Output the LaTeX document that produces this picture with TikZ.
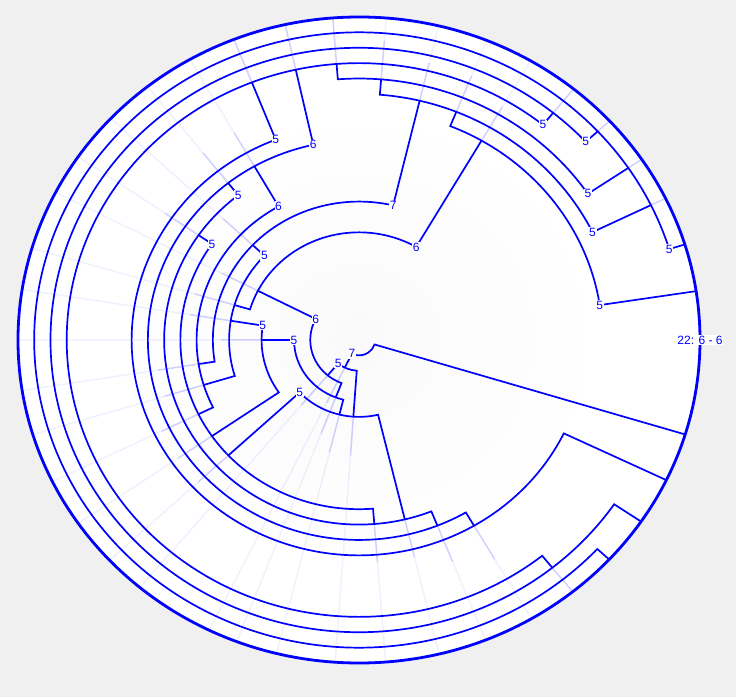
\documentclass[tikz,border=0pt]{standalone}
\usepackage{fontspec}
\setmainfont{Liberation Sans}
\definecolor{ringblue}{HTML}{0000FF}
\definecolor{panelgray}{HTML}{F0F0F0}

\begin{document}
\begin{tikzpicture}[x=1pt,y=1pt,
    branch/.style={ringblue,line width=1.7pt},
    ghost/.style={ringblue,line width=1.5pt,draw opacity=0.18},
    ghostfar/.style={ringblue,line width=1.5pt,draw opacity=0.06},
    tag/.style={text=ringblue,fill=white,inner sep=0.7pt,font=\fontsize{12}{12}\selectfont}]
  \useasboundingbox (0,0) rectangle (736,697);
  \fill[panelgray] (0,0) rectangle (736,697);
  \begin{scope}[shift={(359,357)},x=341pt,y=323pt]
  \fill[white] (0,0) ellipse[x radius=341pt,y radius=323pt];
  \shade[inner color=black!2,outer color=white] (0,0) ellipse[x radius=250pt,y radius=237pt];
  % faint guides out to the rim, stronger near their start
  \draw[ghost] (244:2/21) -- (244:{2/21+.12}) (230:3/21) -- (230:{3/21+.12}) (266:5/21) -- (266:{5/21+.12})
    (152.8:7/21) -- (152.8:{7/21+.12}) (249:4/21) -- (249:{4/21+.12}) (180:6/21) -- (180:{6/21+.12})
    (256:5/21) -- (256:{5/21+.12}) (223:11/21) -- (223:{11/21+.12}) (283.6:12/21) -- (283.6:{12/21+.12})
    (171:8/21) -- (171:{8/21+.12}) (214.6:11/21) -- (214.6:{11/21+.12}) (59.8:15/21) -- (59.8:{15/21+.12})
    (163.5:8/21) -- (163.5:{8/21+.12}) (136.7:9/21) -- (136.7:{9/21+.12}) (197:10/21) -- (197:{10/21+.12})
    (76.5:16/21) -- (76.5:{16/21+.12}) (189:10/21) -- (189:{10/21+.12}) (119.7:13/21) -- (119.7:{13/21+.12})
    (206:11/21) -- (206:{11/21+.12}) (145.4:12/21) -- (145.4:{12/21+.12}) (274.5:12/21) -- (274.5:{12/21+.12})
    (128.3:13/21) -- (128.3:{13/21+.12}) (291.8:13/21) -- (291.8:{13/21+.12}) (102.5:18/21) -- (102.5:1)
    (300.4:14/21) -- (300.4:{14/21+.12}) (111.5:18/21) -- (111.5:1) (68:16/21) -- (68:{16/21+.12})
    (26:20/21) -- (26:1) (85.4:17/21) -- (85.4:{17/21+.12}) (34:20/21) -- (34:1)
    (94.4:18/21) -- (94.4:1) (51:19/21) -- (51:1) (308.8:19/21) -- (308.8:1)
    (42.7:20/21) -- (42.7:1);
  \draw[ghostfar] (244:{2/21+.12}) -- (244:1) (230:{3/21+.12}) -- (230:1) (266:{5/21+.12}) -- (266:1)
    (152.8:{7/21+.12}) -- (152.8:1) (249:{4/21+.12}) -- (249:1) (180:{6/21+.12}) -- (180:1)
    (256:{5/21+.12}) -- (256:1) (223:{11/21+.12}) -- (223:1) (283.6:{12/21+.12}) -- (283.6:1)
    (171:{8/21+.12}) -- (171:1) (214.6:{11/21+.12}) -- (214.6:1) (59.8:{15/21+.12}) -- (59.8:1)
    (163.5:{8/21+.12}) -- (163.5:1) (136.7:{9/21+.12}) -- (136.7:1) (197:{10/21+.12}) -- (197:1)
    (76.5:{16/21+.12}) -- (76.5:1) (189:{10/21+.12}) -- (189:1) (119.7:{13/21+.12}) -- (119.7:1)
    (206:{11/21+.12}) -- (206:1) (145.4:{12/21+.12}) -- (145.4:1) (274.5:{12/21+.12}) -- (274.5:1)
    (128.3:{13/21+.12}) -- (128.3:1) (291.8:{13/21+.12}) -- (291.8:1)
    (300.4:{14/21+.12}) -- (300.4:1) (68:{16/21+.12}) -- (68:1) (85.4:{17/21+.12}) -- (85.4:1);
  % rings, each with its two spokes
  \draw[branch] (244:2/21) -- (244:1/21) arc[start angle=244,end angle=343,x radius=16.24pt,y radius=15.38pt] -- (343:1);
  \draw[branch] (230:3/21) -- (230:2/21) arc[start angle=230,end angle=266,x radius=32.48pt,y radius=30.76pt] -- (266:5/21);
  \draw[branch] (152.8:7/21) -- (152.8:3/21) arc[start angle=152.8,end angle=249,x radius=48.71pt,y radius=46.14pt] -- (249:4/21);
  \draw[branch] (180:6/21) -- (180:4/21) arc[start angle=180,end angle=256,x radius=64.95pt,y radius=61.52pt] -- (256:5/21);
  \draw[branch] (223:11/21) -- (223:5/21) arc[start angle=223,end angle=283.6,x radius=81.19pt,y radius=76.90pt] -- (283.6:12/21);
  \draw[branch] (171:8/21) -- (171:6/21) arc[start angle=171,end angle=214.6,x radius=97.43pt,y radius=92.29pt] -- (214.6:11/21);
  \draw[branch] (59.8:15/21) -- (59.8:7/21) arc[start angle=59.8,end angle=163.5,x radius=113.67pt,y radius=107.67pt] -- (163.5:8/21);
  \draw[branch] (136.7:9/21) -- (136.7:8/21) arc[start angle=136.7,end angle=197,x radius=129.90pt,y radius=123.05pt] -- (197:10/21);
  \draw[branch] (76.5:16/21) -- (76.5:9/21) arc[start angle=76.5,end angle=189,x radius=146.14pt,y radius=138.43pt] -- (189:10/21);
  \draw[branch] (119.7:13/21) -- (119.7:10/21) arc[start angle=119.7,end angle=206,x radius=162.38pt,y radius=153.81pt] -- (206:11/21);
  \draw[branch] (145.4:12/21) -- (145.4:11/21) arc[start angle=145.4,end angle=274.5,x radius=178.62pt,y radius=169.19pt] -- (274.5:12/21);
  \draw[branch] (128.3:13/21) -- (128.3:12/21) arc[start angle=128.3,end angle=291.8,x radius=194.86pt,y radius=184.57pt] -- (291.8:13/21);
  \draw[branch] (102.5:18/21) -- (102.5:13/21) arc[start angle=102.5,end angle=300.4,x radius=211.09pt,y radius=199.95pt] -- (300.4:14/21);
  \draw[branch] (111.5:18/21) -- (111.5:14/21) arc[start angle=111.5,end angle=334.3,x radius=227.33pt,y radius=215.33pt] -- (334.3:1);
  \draw[branch] (8.7:1) -- (8.7:15/21) arc[start angle=8.7,end angle=68,x radius=243.57pt,y radius=230.71pt] -- (68:16/21);
  \draw[branch] (26:20/21) -- (26:16/21) arc[start angle=26,end angle=85.4,x radius=259.81pt,y radius=246.10pt] -- (85.4:17/21);
  \draw[branch] (34:20/21) -- (34:17/21) arc[start angle=34,end angle=94.4,x radius=276.05pt,y radius=261.48pt] -- (94.4:18/21);
  \draw[branch] (51:19/21) -- (51:18/21) arc[start angle=51,end angle=308.8,x radius=292.28pt,y radius=276.86pt] -- (308.8:19/21);
  \draw[branch] (42.7:20/21) -- (42.7:19/21) arc[start angle=42.7,end angle=325.8,x radius=308.52pt,y radius=292.24pt] -- (325.8:1);
  \draw[branch] (17.2:1) -- (17.2:20/21) arc[start angle=17.2,end angle=317.2,x radius=324.76pt,y radius=307.62pt] -- (317.2:1);
  \draw[branch,line width=2.8pt] (0,0) ellipse[x radius=341pt,y radius=323pt];
  % counts at the start of each ring
  \node[tag] (c1) at (244:1/21) {7};
  \node[tag] (c2) at (230:2/21) {5};
  \node[tag] (c3) at (152.8:3/21) {6};
  \node[tag] (c4) at (180:4/21) {5};
  \node[tag] (c5) at (223:5/21) {5};
  \node[tag] (c6) at (171:6/21) {5};
  \node[tag] (c7) at (59.8:7/21) {6};
  \node[tag] (c8) at (136.7:8/21) {5};
  \node[tag] (c9) at (76.5:9/21) {7};
  \node[tag] (c10) at (119.7:10/21) {6};
  \node[tag] (c11) at (145.4:11/21) {5};
  \node[tag] (c12) at (128.3:12/21) {5};
  \node[tag] (c13) at (102.5:13/21) {6};
  \node[tag] (c14) at (111.5:14/21) {5};
  \node[tag] (c15) at (8.7:15/21) {5};
  \node[tag] (c16) at (26:16/21) {5};
  \node[tag] (c17) at (34:17/21) {5};
  \node[tag] (c18) at (51:18/21) {5};
  \node[tag] (c19) at (42.7:19/21) {5};
  \node[tag] (c20) at (17.2:20/21) {5};
  \node[tag] (c21) at (0:1) {22: 6 - 6};
  \end{scope}
\end{tikzpicture}
\end{document}
